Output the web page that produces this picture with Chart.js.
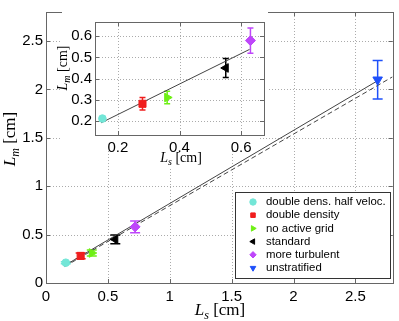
<!DOCTYPE html>
<html lang="en">
<head>
  <meta charset="UTF-8">
  <title>Lm vs Ls</title>
  <script src="https://cdn.jsdelivr.net/npm/chart.js"></script>
  <style>
    body { margin: 0; background: #fff; }
    #wrap { position: relative; width: 399px; height: 321px; }
    #mainChart { position: absolute; left: 0; top: 0; }
    #insetChart { position: absolute; left: 50px; top: 10px; }
  </style>
</head>
<body>
  <div id="wrap">
    <canvas id="mainChart" width="399" height="321"></canvas>
    <canvas id="insetChart" width="220" height="165"></canvas>
  </div>

  <script>
    // runs (main panel and inset positions differ a bit)
    const runNames = ['double dens. half veloc.', 'double density', 'no active grid', 'standard', 'more turbulent', 'unstratified'];
    const mainLsValues = [0.16, 0.28, 0.37, 0.56, 0.72, 2.68];
    const insetLsValues = [0.15, 0.28, 0.36, 0.55, 0.63, 2.68];
    const lmValues = [0.21, 0.28, 0.31, 0.45, 0.58, 2.10];
    const lmErrors = [0.01, 0.03, 0.03, 0.045, 0.06, 0.2];

    // fitted lines
    const fitLs = [0.15, 2.68];
    const fitLm = [0.18, 2.09];
    const dashLs = [0.15, 2.8];
    const dashLm = [0.17, 2.13];
    const insetFitLs = [0.146, 0.627];
    const insetFitLm = [0.19, 0.538];

    // axes
    const mainTicks = [0, 0.5, 1, 1.5, 2, 2.5];
    const insetXTicks = [0.2, 0.4, 0.6];
    const insetYTicks = [0.2, 0.3, 0.4, 0.5, 0.6];

    const runColors = ['rgb(115,230,215)', 'rgb(240,30,30)', 'rgb(110,240,20)', '#000000', 'rgb(190,70,250)', 'rgb(30,80,250)'];
    const runShapes = ['circle', 'rect', 'triangle', 'triangle', 'rectRot', 'triangle'];
    const runRotations = [0, 0, 90, -90, 0, 180];
    const runRadius = [3.8, 5, 5, 5, 5, 5.5];

    const tickFont = { family: '"Liberation Sans", Arial, Helvetica, sans-serif', size: 15 };

    function runDatasets(lsValues, maxLs) {
      const sets = [];
      runNames.forEach((name, i) => {
        if (lsValues[i] > maxLs) return;
        sets.push({
          label: name,
          data: [{ x: lsValues[i], y: lmValues[i] }],
          err: lmErrors[i],
          pointStyle: runShapes[i],
          rotation: runRotations[i],
          pointRadius: runRadius[i],
          pointBackgroundColor: runColors[i],
          pointBorderColor: runColors[i],
          borderColor: runColors[i],
          pointBorderWidth: 1,
          showLine: false,
          order: 0
        });
      });
      return sets;
    }

    function lineDataset(xs, ys, dash) {
      return {
        label: '',
        data: xs.map((x, i) => ({ x: x, y: ys[i] })),
        showLine: true,
        pointRadius: 0,
        borderColor: '#444',
        borderWidth: 1,
        borderDash: dash,
        order: 5
      };
    }

    function drawAxisTitle(ctx, x, y, sub, size, vertical) {
      const italic = 'italic ' + size + 'px "Liberation Serif", "DejaVu Serif", serif';
      const subFont = 'italic ' + Math.round(size * 0.7) + 'px "Liberation Serif", "DejaVu Serif", serif';
      const roman = size + 'px "Liberation Serif", "DejaVu Serif", serif';
      ctx.save();
      ctx.translate(x, y);
      if (vertical) ctx.rotate(-Math.PI / 2);
      ctx.font = italic; const wL = ctx.measureText('L').width;
      ctx.font = subFont; const wS = ctx.measureText(sub).width;
      ctx.font = roman; const wU = ctx.measureText(' [cm]').width;
      let cx = -(wL + wS + wU) / 2;
      ctx.fillStyle = '#000';
      ctx.textAlign = 'left';
      ctx.textBaseline = 'alphabetic';
      ctx.font = italic; ctx.fillText('L', cx, 0); cx += wL;
      ctx.font = subFont; ctx.fillText(sub, cx, size * 0.22); cx += wS;
      ctx.font = roman; ctx.fillText(' [cm]', cx, 0);
      ctx.restore();
    }

    // white patches, dotted grid, frame, inner tick marks and error bars, matlab style
    const framePlugin = {
      id: 'frame',
      beforeDraw(chart, args, opts) {
        if (!opts.white) return;
        const ctx = chart.ctx;
        ctx.save();
        ctx.fillStyle = '#fff';
        opts.white.forEach(r => ctx.fillRect(r[0], r[1], r[2] - r[0], r[3] - r[1]));
        ctx.restore();
      },
      beforeDatasetsDraw(chart, args, opts) {
        const ctx = chart.ctx;
        const xs = chart.scales.x, ys = chart.scales.y;
        const a = chart.chartArea;
        const left = Math.round(a.left), right = Math.round(a.right);
        const top = Math.round(a.top), bottom = Math.round(a.bottom);
        // dotted grid drawn as single pixels, only inside the plot box
        ctx.save();
        ctx.fillStyle = '#ababab';
        xs.ticks.forEach(t => {
          const px = Math.round(xs.getPixelForValue(t.value));
          for (let y = top + 1; y < bottom; y += 3) ctx.fillRect(px, y, 1, 1);
        });
        ys.ticks.forEach(t => {
          const py = Math.round(ys.getPixelForValue(t.value));
          for (let x = left + 1; x < right; x += 3) ctx.fillRect(x, py, 1, 1);
        });
        ctx.restore();

        ctx.save();
        chart.data.datasets.forEach(ds => {
          if (ds.err === undefined) return;
          const p = ds.data[0];
          const px = xs.getPixelForValue(p.x);
          const ey1 = ys.getPixelForValue(p.y + ds.err);
          const ey2 = ys.getPixelForValue(p.y - ds.err);
          const cap = opts.cap;
          ctx.strokeStyle = ds.borderColor;
          ctx.lineWidth = 1.5;
          ctx.beginPath();
          ctx.moveTo(px, ey1); ctx.lineTo(px, ey2);
          ctx.moveTo(px - cap, ey1); ctx.lineTo(px + cap, ey1);
          ctx.moveTo(px - cap, ey2); ctx.lineTo(px + cap, ey2);
          ctx.stroke();
        });
        ctx.restore();
      },
      afterDraw(chart, args, opts) {
        const ctx = chart.ctx;
        const a = chart.chartArea;
        ctx.save();
        ctx.strokeStyle = '#666';
        ctx.lineWidth = 1;
        ctx.beginPath();
        chart.scales.x.ticks.forEach(t => {
          const px = Math.round(chart.scales.x.getPixelForValue(t.value)) + 0.5;
          ctx.moveTo(px, a.bottom); ctx.lineTo(px, a.bottom - 4);
          ctx.moveTo(px, a.top); ctx.lineTo(px, a.top + 4);
        });
        chart.scales.y.ticks.forEach(t => {
          const py = Math.round(chart.scales.y.getPixelForValue(t.value)) + 0.5;
          ctx.moveTo(a.left, py); ctx.lineTo(a.left + 4, py);
          ctx.moveTo(a.right, py); ctx.lineTo(a.right - 4, py);
        });
        ctx.stroke();
        ctx.strokeRect(Math.round(a.left) + 0.5, Math.round(a.top) + 0.5, Math.round(a.right - a.left), Math.round(a.bottom - a.top));
        ctx.restore();

        drawAxisTitle(ctx, opts.xTitle[0], opts.xTitle[1], 's', opts.titleSize, false);
        drawAxisTitle(ctx, opts.yTitle[0], opts.yTitle[1], 'm', opts.titleSize, true);

        if (opts.legend) {
          const [lx, ly, lw, lh] = opts.legend;
          ctx.save();
          ctx.fillStyle = '#fff';
          ctx.fillRect(lx, ly, lw, lh);
          ctx.strokeStyle = '#333';
          ctx.strokeRect(lx + 0.5, ly + 0.5, lw, lh);
          ctx.font = '11.4px "Liberation Sans", Arial, sans-serif';
          ctx.textBaseline = 'middle';
          let row = 0;
          chart.data.datasets.forEach(ds => {
            if (ds.err === undefined) return;
            const y = ly + 10 + row * 13.2;
            ctx.fillStyle = ds.borderColor;
            ctx.strokeStyle = ds.borderColor;
            Chart.helpers.drawPoint(ctx, { pointStyle: ds.pointStyle, rotation: ds.rotation, radius: 3.2, borderWidth: 1 }, lx + 18, y);
            ctx.fillStyle = '#000';
            ctx.fillText(ds.label, lx + 31, y);
            row++;
          });
          ctx.restore();
        }
      }
    };

    // chart.js grid lines off (custom dotted grid above), no tick marks so labels sit close
    const noGrid = { display: false, drawOnChartArea: false, drawTicks: false };

    // main chart
    new Chart(document.getElementById('mainChart'), {
      type: 'scatter',
      data: {
        datasets: [
          lineDataset(fitLs, fitLm, []),
          lineDataset(dashLs, dashLm, [5, 3])
        ].concat(runDatasets(mainLsValues, 10))
      },
      options: {
        responsive: false,
        animation: false,
        layout: { padding: { left: 0, top: 7, right: 6, bottom: 0 } },
        plugins: {
          legend: { display: false },
          tooltip: { enabled: false },
          frame: { cap: 5, xTitle: [220, 315], yTitle: [15, 139], titleSize: 17, legend: [235, 192, 155, 86] }
        },
        scales: {
          x: {
            min: 0, max: 2.8,
            afterBuildTicks: s => { s.ticks = mainTicks.map(v => ({ value: v })); },
            afterFit: s => { s.height = 38; },
            grid: noGrid,
            border: { display: false },
            ticks: { font: tickFont, color: '#000', padding: 5, maxRotation: 0, callback: v => String(v) }
          },
          y: {
            min: 0, max: 2.8,
            afterBuildTicks: s => { s.ticks = mainTicks.map(v => ({ value: v })); },
            afterFit: s => { s.width = 46; },
            grid: noGrid,
            border: { display: false },
            ticks: { font: tickFont, color: '#000', padding: 3, callback: v => String(v) }
          }
        }
      },
      plugins: [framePlugin]
    });

    // inset chart
    new Chart(document.getElementById('insetChart'), {
      type: 'scatter',
      data: {
        datasets: [lineDataset(insetFitLs, insetFitLm, [])].concat(runDatasets(insetLsValues, 0.67))
      },
      options: {
        responsive: false,
        animation: false,
        layout: { padding: { left: 0, top: 7, right: 4, bottom: 0 } },
        plugins: {
          legend: { display: false },
          tooltip: { enabled: false },
          frame: { cap: 3, white: [[12, 2, 218, 127], [12, 127, 208, 141], [100, 141, 160, 158]], xTitle: [131, 152], yTitle: [17, 58], titleSize: 14 }
        },
        scales: {
          x: {
            min: 0.126, max: 0.674,
            afterBuildTicks: s => { s.ticks = insetXTicks.map(v => ({ value: v })); },
            afterFit: s => { s.height = 40; },
            grid: noGrid,
            border: { display: false },
            ticks: { font: tickFont, color: '#000', padding: 4, maxRotation: 0, callback: v => String(v) }
          },
          y: {
            min: 0.132, max: 0.668,
            afterBuildTicks: s => { s.ticks = insetYTicks.map(v => ({ value: v })); },
            afterFit: s => { s.width = 45; },
            grid: noGrid,
            border: { display: false },
            ticks: { font: tickFont, color: '#000', padding: 3, callback: v => String(v) }
          }
        }
      },
      plugins: [framePlugin]
    });
  </script>
</body>
</html>
